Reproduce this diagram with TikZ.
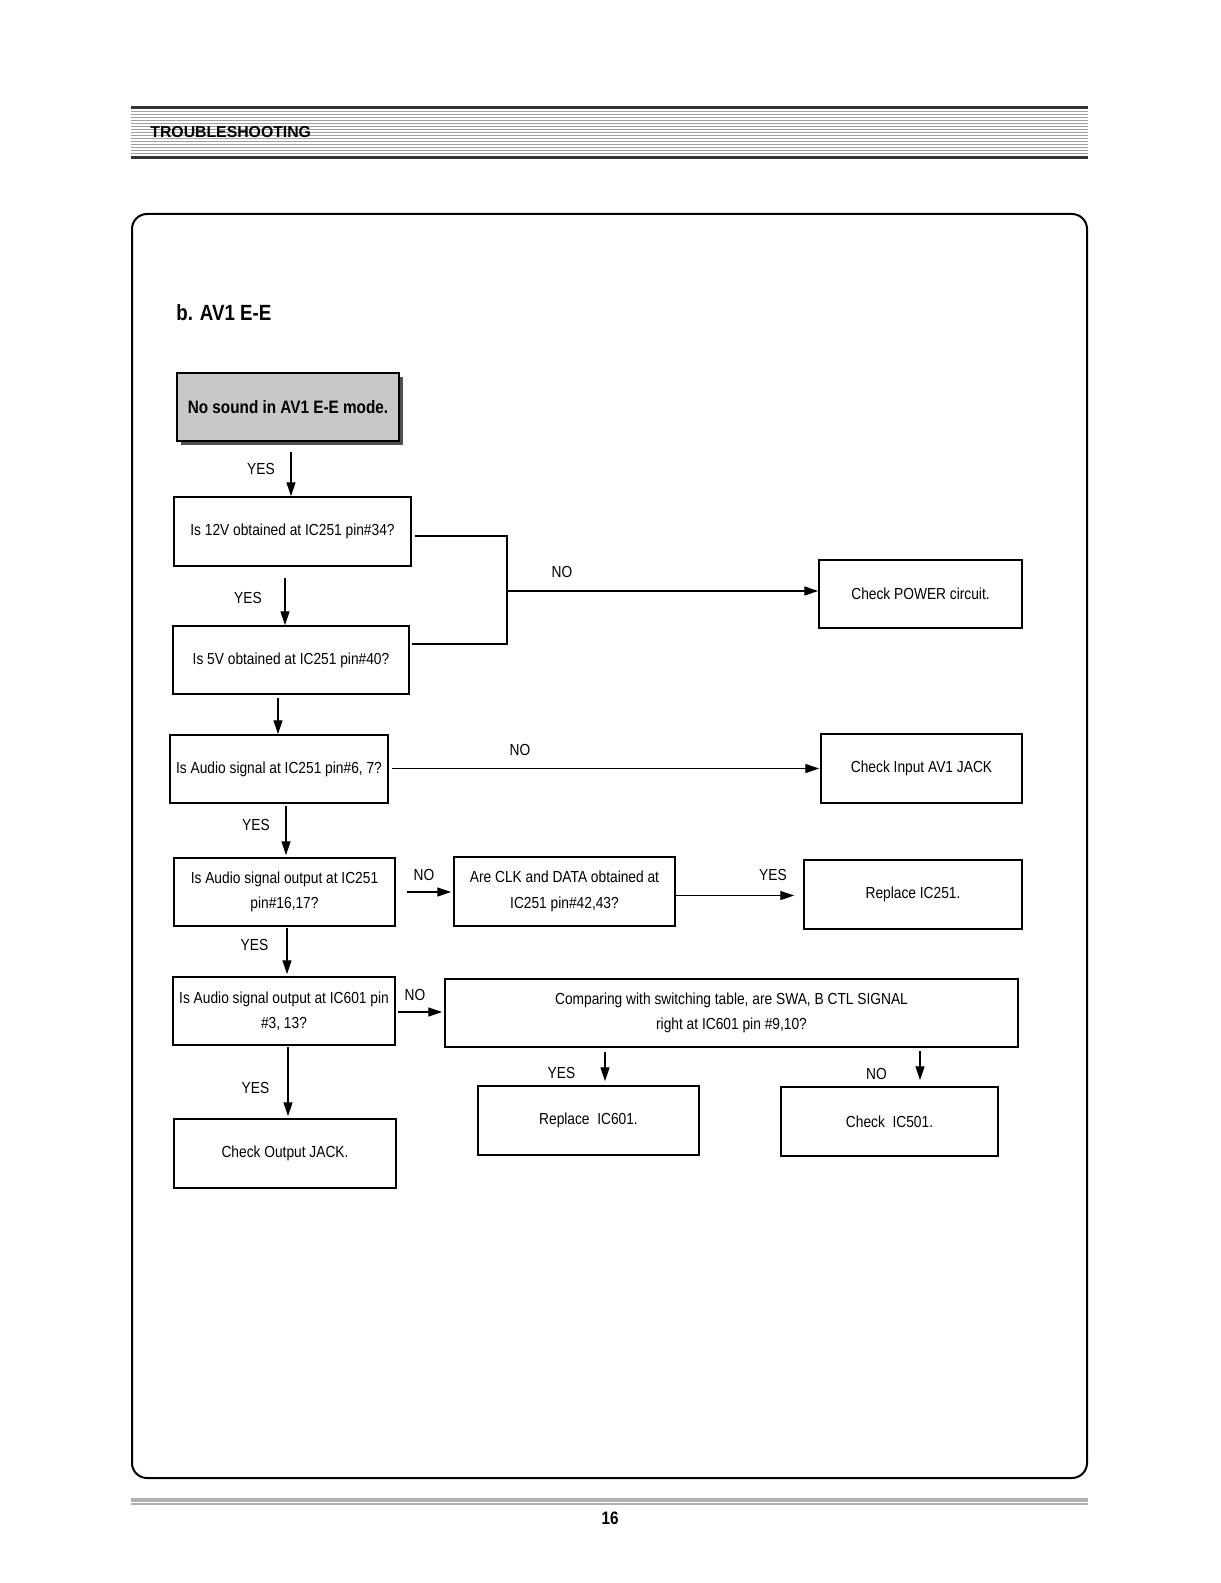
\documentclass[tikz,border=0pt]{standalone}
\usepackage{fontspec}
\setmainfont{Liberation Sans}
\newfontfamily\nfont[FakeStretch=0.86]{Liberation Sans}
\newfontfamily\bnfont[FakeStretch=0.85]{Liberation Sans}
\usetikzlibrary{arrows.meta,shadows}
\definecolor{hdrgray}{HTML}{A0A0A0}
\definecolor{ftgray}{HTML}{B0B0B0}
\definecolor{startfill}{HTML}{C8C8C8}
\definecolor{shadowc}{HTML}{505050}
\tikzset{
  box/.style={draw, line width=0.75pt, inner sep=0pt, align=center,
    font=\nfont\fontsize{8}{12.75}\selectfont},
  sz/.style 2 args={minimum width=#1*0.5pt, minimum height=#2*0.5pt},
  arr/.style={line width=0.65pt, -{Triangle[length=7pt,width=4.5pt]}},
  conn/.style={line width=0.65pt},
  lbl/.style={font=\nfont\fontsize{8}{9}\selectfont, inner sep=0pt},
}
\begin{document}
\begin{tikzpicture}[x=0.5pt, y=-0.5pt]
\fill[white] (0,0) rectangle (1220,1583);
\useasboundingbox (0,0) rectangle (1220,1583);

% header
\foreach \yy in {112,115,...,154} \draw[hdrgray, line width=0.5pt] (131,\yy) -- (1088,\yy);
\draw[black!80, line width=1.5pt] (131,108) -- (1088,108);
\draw[black!80, line width=1.5pt] (131,157.5) -- (1088,157.5);
\node[anchor=west, inner sep=0pt, font=\bfseries\fontsize{7.9}{9}\selectfont] (hdr) at (150,132) {TROUBLESHOOTING};

% frame
\draw[line width=1pt, rounded corners=7.5pt] (132,214) rectangle (1087,1478);

% footer
\draw[ftgray, line width=2pt] (131,1500) -- (1088,1500);
\draw[ftgray, line width=1pt] (131,1504.3) -- (1088,1504.3);
\node[inner sep=0pt, font=\bnfont\bfseries\fontsize{9}{10}\selectfont] (pg) at (610,1518) {16};

% title
\node[anchor=west, inner sep=0pt, font=\bnfont\bfseries\fontsize{11}{13}\selectfont] (title) at (176,313) {b. AV1 E-E};

% boxes
\node[box, sz={222}{68}, fill=startfill, drop shadow={shadow xshift=2pt, shadow yshift=-2pt, fill=shadowc, opacity=1},
  font=\bnfont\bfseries\fontsize{9}{11}\selectfont] (start) at (288,407) {No sound in AV1 E-E mode.};
\node[box, sz={237}{69}] (b12) at (292.5,531.5) {Is 12V obtained at IC251 pin\#34?};
\node[box, sz={236}{68}] (b5v) at (291,660) {Is 5V obtained at IC251 pin\#40?};
\node[box, sz={203}{68}] (power) at (920.5,594) {Check POWER circuit.};
\node[box, sz={218}{68}] (audio) at (279,769) {Is Audio signal at IC251 pin\#6, 7?};
\node[box, sz={201}{69}] (av1) at (921.5,768.5) {Check Input AV1 JACK};
\node[box, sz={221}{68}] (out251) at (284.5,892) {Is Audio signal output at IC251\\pin\#16,17?};
\node[box, sz={221}{69}] (clk) at (564.5,891.5) {Are CLK and DATA obtained at\\IC251 pin\#42,43?};
\node[box, sz={218}{69}] (rep251) at (913,894.5) {Replace IC251.};
\node[box, sz={222}{68}] (out601) at (284,1011) {Is Audio signal output at IC601 pin\\\#3, 13?};
\node[box, sz={573}{68}] (comp) at (731.5,1013) {Comparing with switching table, are SWA, B CTL SIGNAL\\right at IC601 pin \#9,10?};
\node[box, sz={221}{69}] (rep601) at (588.5,1120.5) {Replace\ \ IC601.};
\node[box, sz={217}{69}] (ic501) at (889.5,1121.5) {Check\ \ IC501.};
\node[box, sz={222}{69}] (outjack) at (285,1153.5) {Check Output JACK.};

% connectors
\draw[arr] ([shift={(3,10)}]start.south) -- ([shift={(3,0)}]start.south |- b12.north);
\draw[arr] ([shift={(-7.5,11)}]b12.south) -- ([shift={(-6,0)}]b5v.north);
\coordinate (bus) at (507,591);
\draw[conn] ([shift={(3,4.5)}]b12.east) -| (bus) |- ([shift={(2,-16)}]b5v.east);
\draw[arr] (bus) -- (power.west |- bus);
\draw[arr] ([shift={(-13,3)}]b5v.south) -- ([shift={(-1,0)}]audio.north);
\draw[arr] ([shift={(3,-0.5)}]audio.east) -- ([shift={(-1,0)}]av1.west);
\draw[arr] ([shift={(7,2)}]audio.south) -- ([shift={(1.5,-2)}]out251.north);
\draw[arr] ([shift={(11,0)}]out251.east) -- ([shift={(-2,0.5)}]clk.west);
\draw[arr] ([shift={(0,4)}]clk.east) -- ([shift={(-9,1)}]rep251.west);
\draw[arr] ([shift={(2.5,1)}]out251.south) -- ([shift={(3,-2)}]out601.north);
\draw[arr] ([shift={(2,1)}]out601.east) -- ([shift={(-2,-1)}]comp.west);
\draw[arr] ([shift={(-126.5,4)}]comp.south) -- ([shift={(16.5,-4)}]rep601.north);
\draw[arr] ([shift={(188.5,3)}]comp.south) -- ([shift={(30.5,-6)}]ic501.north);
\draw[arr] ([shift={(4,1)}]out601.south) -- ([shift={(3,-2)}]outjack.north);

% labels
\node[lbl] (l1) at (261,469) {YES};
\node[lbl] (l2) at (248,598) {YES};
\node[lbl] (l3) at (562,572) {NO};
\node[lbl] (l4) at (520,750) {NO};
\node[lbl] (l5) at (256,825) {YES};
\node[lbl] (l6) at (424,875) {NO};
\node[lbl] (l7) at (773,875) {YES};
\node[lbl] (l8) at (254.5,945) {YES};
\node[lbl] (l9) at (415,995) {NO};
\node[lbl] (l10) at (561.5,1072.5) {YES};
\node[lbl] (l11) at (876.5,1073.5) {NO};
\node[lbl] (l12) at (255.5,1087.5) {YES};
\end{tikzpicture}
\end{document}
